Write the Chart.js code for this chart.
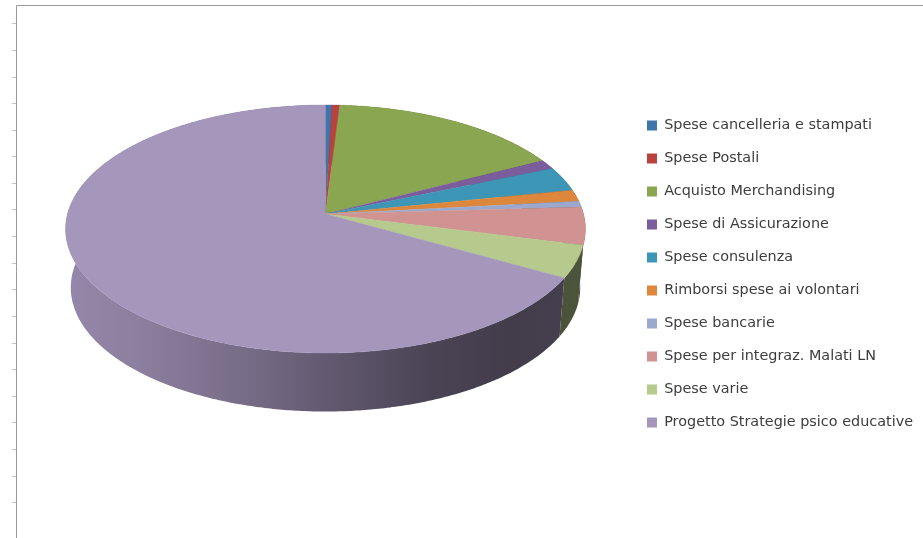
<!DOCTYPE html>
<html><head><meta charset="utf-8">
<style>html,body{margin:0;padding:0;background:#fff;overflow:hidden}canvas{display:block}</style>
<script src="https://cdn.jsdelivr.net/npm/chart.js@4"></script>
</head><body><canvas id="c" width="923" height="538"></canvas>
<script>
const categories = ["Spese cancelleria e stampati","Spese Postali","Acquisto Merchandising","Spese di Assicurazione","Spese consulenza","Rimborsi spese ai volontari","Spese bancarie","Spese per integraz. Malati LN","Spese varie","Progetto Strategie psico educative"];
const seriesValues = [0.45,0.53,16.4,1.25,3.17,1.5,0.78,4.9,4.2,66.8];
const sliceColors = ["#4074ad","#b9423e","#8ba650","#7b5d9e","#3d96b5","#dd873c","#9aa9cd","#d09391","#b5ca8c","#a596bc"];

const P = {cx:325.5, ay:214, b:258, a:122.2, k:0.121, depth:58.5, shrink:0.98};
function hexRgb(h){return [1,3,5].map(i=>parseInt(h.substr(i,2),16));}
function shade(h,f){const c=hexRgb(h);return `rgb(${c.map(v=>Math.round(v*f)).join(',')})`;}
function rim(t){const u=Math.cos(t),v=Math.sin(t),d=1-P.k*v;return [P.cx+P.b*u/d,P.ay+P.a*v/d];}
function low(t){const p=rim(t);return [P.cx+(p[0]-P.cx)*P.shrink,p[1]+P.depth];}
function samples(s,e){const n=Math.max(2,Math.ceil((e-s)/0.01)),o=[];for(let i=0;i<=n;i++)o.push(s+(e-s)*i/n);return o;}

const pie3d = {
  id:'pie3d',
  beforeDatasetsDraw(chart){
    const ctx=chart.ctx, meta=chart.getDatasetMeta(0);
    meta.data.forEach((el,i)=>{
      const col=sliceColors[i], ts=samples(el.startAngle,el.endAngle);
      const g=ctx.createLinearGradient(65,0,585,0);
      [[0,.9],[.15,.84],[.35,.72],[.5,.6],[.7,.45],[.85,.4],[1,.42]].forEach(s=>g.addColorStop(s[0],shade(col,s[1])));
      ctx.save();ctx.beginPath();
      ts.forEach((t,j)=>{const p=rim(t);j?ctx.lineTo(p[0],p[1]):ctx.moveTo(p[0],p[1]);});
      ts.slice().reverse().forEach(t=>{const p=low(t);ctx.lineTo(p[0],p[1]);});
      ctx.closePath();ctx.fillStyle=g;ctx.fill();ctx.restore();
      el.draw=function(c){
        c.save();c.beginPath();c.moveTo(P.cx,P.ay);
        ts.forEach(t=>{const p=rim(t);c.lineTo(p[0],p[1]);});
        c.closePath();c.fillStyle=col;c.strokeStyle=col;c.lineWidth=.4;c.fill();c.stroke();c.restore();
      };
    });
  },
  beforeDraw(chart){
    const c=chart.ctx;c.save();c.fillStyle='#fff';c.fillRect(0,0,923,538);
    c.strokeStyle='#9a9a9a';c.lineWidth=1;c.beginPath();
    c.moveTo(16.5,538);c.lineTo(16.5,5.5);c.lineTo(923,5.5);c.stroke();
    c.strokeStyle='#c4c4c4';c.beginPath();
    for(let y=23.3;y<510;y+=26.6){c.moveTo(12,Math.round(y)+.5);c.lineTo(16,Math.round(y)+.5);}
    c.stroke();c.restore();
  }
};
new Chart(document.getElementById('c'),{
  type:'pie',
  data:{labels:categories,datasets:[{data:seriesValues,backgroundColor:sliceColors,borderWidth:0}]},
  options:{responsive:false,animation:false,
    layout:{padding:{top:10,right:0,left:0,bottom:0}},
    plugins:{tooltip:{enabled:false},
      legend:{position:'right',align:'center',
        labels:{boxWidth:10,boxHeight:10,padding:18.6,color:'#3d3d3d',font:{family:'"DejaVu Sans"',size:14.4}}}}},
  plugins:[pie3d]
});
</script></body></html>
